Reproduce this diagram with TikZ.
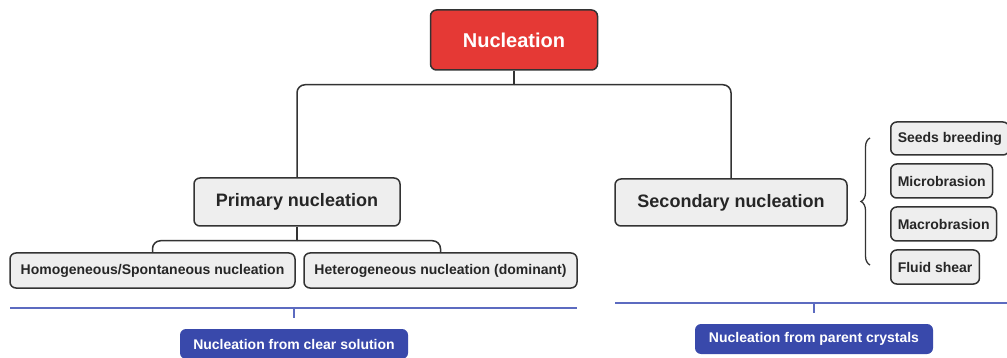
\documentclass[tikz,border=0pt]{standalone}
\usepackage{fontspec}
\setmainfont{Liberation Sans}
\usetikzlibrary{positioning, calc, decorations.pathreplacing}
\definecolor{nucred}{HTML}{E53935}
\definecolor{boxgray}{HTML}{EEEEEE}
\definecolor{edgegray}{HTML}{333333}
\definecolor{tagblue}{HTML}{3949AB}
\definecolor{lineblue}{HTML}{5C6BC0}

\tikzset{
  box/.style={draw=edgegray, line width=1.5pt, rounded corners=6pt, fill=boxgray,
    text=black!85, inner sep=0pt},
  bigbox/.style={box, font=\fontsize{18}{21}\selectfont\bfseries},
  smallbox/.style={box, font=\fontsize{14}{17}\selectfont\bfseries},
  tag/.style={fill=tagblue, rounded corners=6pt, text=white, inner sep=0pt,
    minimum height=30pt, font=\fontsize{14}{17}\selectfont\bfseries},
  conn/.style={draw=edgegray, line width=1.5pt, rounded corners=8pt},
  bline/.style={draw=lineblue, line width=1.5pt}
}

\begin{document}
\begin{tikzpicture}[x=1pt, y=-1pt]
    \useasboundingbox (0,0) rectangle (1007,358);
    % Top node
    \node[box, fill=nucred, text=white, minimum width=167pt, minimum height=60pt,
      font=\fontsize{20}{24}\selectfont\bfseries] (nucl) at (514,40) {Nucleation};
    % Primary / secondary
    \node[bigbox, minimum width=206pt, minimum height=48pt] (prim) at (297,202) {Primary nucleation};
    \node[bigbox, minimum width=232pt, minimum height=47pt] (sec) at (731,202.5) {Secondary nucleation};
    \draw[conn] (nucl.south) -- ++(0,14) coordinate (nb);
    \draw[conn] (nb) -| (prim.north);
    \draw[conn] (nb) -| (sec.north);
    % Primary branches
    \node[smallbox, minimum width=285pt, minimum height=35pt] (homo) at (152.5,270.5)
      {Homogeneous/Spontaneous nucleation};
    \node[smallbox, minimum width=273pt, minimum height=35pt] (hetero) at (440.5,270.5)
      {Heterogeneous nucleation (dominant)};
    \draw[conn] (prim.south) -- ++(0,14) coordinate (pb);
    \draw[conn] (pb) -| (homo.north);
    \draw[conn] (pb) -| (hetero.north);
    % Secondary mechanisms
    \node[smallbox, anchor=west, inner xsep=7pt, minimum height=33pt] (seeds) at (890,138.5) {Seeds breeding};
    \node[smallbox, anchor=west, inner xsep=7pt, minimum height=34pt] (micro) at (890,181) {Microbrasion};
    \node[smallbox, anchor=west, inner xsep=7pt, minimum height=34pt] (macro) at (890,224) {Macrobrasion};
    \node[smallbox, anchor=west, inner xsep=7pt, minimum height=34pt] (fluid) at (890,267) {Fluid shear};
    \draw[edgegray, line width=1.3pt, decorate, decoration={brace, amplitude=9pt}]
      (870,265) -- (870,138);
    % Blue tags
    \coordinate (la) at (10,308);
    \coordinate (lb) at (577,308);
    \coordinate (lc) at (615,303);
    \coordinate (ld) at (1007,303);
    \node[tag, minimum width=228pt] (clear) at (294,344) {Nucleation from clear solution};
    \node[tag, minimum width=238pt] (parent) at (814,339) {Nucleation from parent crystals};
    \draw[bline] (la) -- (lb);
    \draw[bline] (clear.north |- la) -- ++(0,10);
    \draw[bline] (lc) -- (ld);
    \draw[bline] (parent.north |- lc) -- ++(0,10);
\end{tikzpicture}
\end{document}
